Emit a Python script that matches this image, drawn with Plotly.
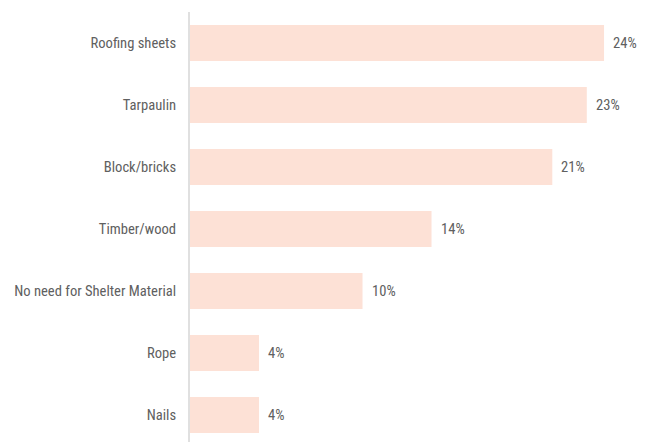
import plotly.graph_objects as go

categories = ["Roofing sheets", "Tarpaulin", "Block/bricks", "Timber/wood",
              "No need for Shelter Material", "Rope", "Nails"]
values = [24, 23, 21, 14, 10, 4, 4]
value_labels = [f"{v}%" for v in values]

BAR_COLOR = "#fde1d6"
TEXT_COLOR = "#606060"
FONT = "Roboto Condensed, Liberation Sans Narrow, Arial Narrow, sans-serif"
FONT_SIZE = 14.6

fig = go.Figure(
    go.Bar(
        x=values,
        y=categories,
        orientation="h",
        marker=dict(color=BAR_COLOR, line=dict(width=0)),
        width=0.58,
        hoverinfo="skip",
    )
)

# value labels just to the right of each bar
for cat, v, lab in zip(categories, values, value_labels):
    fig.add_annotation(
        x=v, y=cat, text=lab, showarrow=False,
        xanchor="left", xshift=7, yanchor="middle",
        font=dict(family=FONT, size=FONT_SIZE, color=TEXT_COLOR),
    )

fig.update_layout(
    width=652,
    height=442,
    margin=dict(l=190, r=0, t=12, b=0),
    paper_bgcolor="white",
    plot_bgcolor="white",
    showlegend=False,
    font=dict(family=FONT, size=FONT_SIZE, color=TEXT_COLOR),
)
fig.update_xaxes(range=[0, 26.78], visible=False, showgrid=False, zeroline=False)
fig.update_yaxes(
    categoryorder="array",
    categoryarray=categories,
    range=[6.435, -0.5],
    showgrid=False,
    zeroline=False,
    showline=True,
    linecolor="#e0e0e0",
    linewidth=2,
    ticks="",
    ticklabelstandoff=9,
    tickfont=dict(family=FONT, size=FONT_SIZE, color=TEXT_COLOR),
)

fig.write_html("out.html")
